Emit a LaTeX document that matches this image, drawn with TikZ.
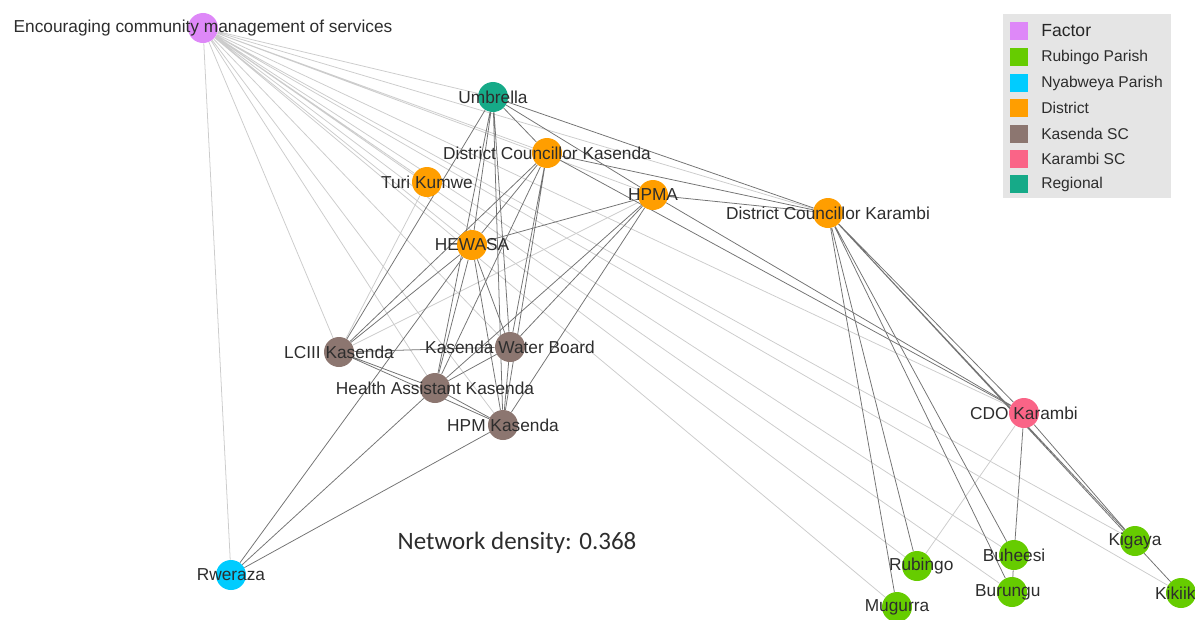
\documentclass[tikz,border=0pt]{standalone}
\usepackage{fontspec}
\setmainfont{Liberation Sans}
\newfontfamily\densityfont{Carlito}
\definecolor{factorc}{RGB}{222,136,248}
\definecolor{rubingoc}{RGB}{102,204,0}
\definecolor{nyabweyac}{RGB}{0,204,255}
\definecolor{districtc}{RGB}{255,158,0}
\definecolor{kasendac}{RGB}{140,118,112}
\definecolor{karambic}{RGB}{250,100,135}
\definecolor{regionalc}{RGB}{22,170,136}
\definecolor{textc}{RGB}{45,45,45}
\definecolor{legendbg}{RGB}{229,229,229}
\pgfdeclarelayer{background}
\pgfsetlayers{background,main}
\tikzset{
  actor/.style={circle,fill=#1,minimum size=0.75cm,inner sep=0pt},
  lbl/.style={font=\fontsize{12.3}{14}\selectfont,text=textc,inner sep=0pt},
  tie/.style={draw=black!55,line width=0.55pt},
  faint/.style={draw=black!20,line width=0.55pt},
  keybox/.style={fill=#1,minimum size=0.46cm,inner sep=0pt},
  keytext/.style={font=\fontsize{11.1}{13}\selectfont,text=textc,anchor=west,inner sep=0pt}
}

\begin{document}
\begin{tikzpicture}[x=0.025cm,y=-0.025cm]
  \useasboundingbox (0,0) rectangle (1195,619);

  \node[actor=factorc,label={[lbl]center:Encouraging community management of services}] (fac) at (203,28) {};
  \node[actor=regionalc,label={[lbl]center:Umbrella}] (umb) at (493,97) {};
  \node[actor=districtc,label={[lbl]center:District Councillor Kasenda}] (dckas) at (547,153) {};
  \node[actor=districtc,label={[lbl]center:Turi Kumwe}] (turi) at (427,182) {};
  \node[actor=districtc,label={[lbl]center:HPMA}] (hpma) at (653,195) {};
  \node[actor=districtc,label={[lbl]center:District Councillor Karambi}] (dckar) at (828,213) {};
  \node[actor=districtc,label={[lbl]center:HEWASA}] (hewasa) at (472,245) {};
  \node[actor=kasendac,label={[lbl]center:LCIII Kasenda}] (lciii) at (339,352) {};
  \node[actor=kasendac,label={[lbl]center:Kasenda Water Board}] (kwb) at (510,347) {};
  \node[actor=kasendac,label={[lbl]center:Health Assistant Kasenda}] (hak) at (435,388) {};
  \node[actor=kasendac,label={[lbl]center:HPM Kasenda}] (hpmk) at (503,425) {};
  \node[actor=karambic,label={[lbl]center:CDO Karambi}] (cdo) at (1024,413) {};
  \node[actor=nyabweyac,label={[lbl]center:Rweraza}] (rwe) at (231,575) {};
  \node[actor=rubingoc,label={[lbl,xshift=3pt]center:Rubingo}] (rub) at (917,566) {};
  \node[actor=rubingoc,label={[lbl]center:Mugurra}] (mug) at (897,607) {};
  \node[actor=rubingoc,label={[lbl]center:Buheesi}] (buh) at (1014,555) {};
  \node[actor=rubingoc,label={[lbl,xshift=-3pt]center:Burungu}] (bur) at (1012,592) {};
  \node[actor=rubingoc,label={[lbl]center:Kigaya}] (kig) at (1135,541) {};
  \node[actor=rubingoc,label={[lbl,xshift=-4pt]center:Kikiik}] (kik) at (1181,593) {};

  \node[font=\densityfont\fontsize{17.8}{20}\selectfont,text=textc] (dens) at (517,543) {Network density: 0.368};

  \node[fill=legendbg,minimum width=168*0.025cm,minimum height=184*0.025cm,inner sep=0pt] (key) at (1087,106) {};
  \node[keybox=factorc] (k1) at (1019,31) {};
  \node[keytext,font=\fontsize{12.5}{14}\selectfont,text=black!85] (t1) at (1041,31) {Factor};
  \node[keybox=rubingoc] (k2) at (1019,57) {};
  \node[keytext] (t2) at (1041,57) {Rubingo Parish};
  \node[keybox=nyabweyac] (k3) at (1019,83) {};
  \node[keytext] (t3) at (1041,83) {Nyabweya Parish};
  \node[keybox=districtc] (k4) at (1019,108) {};
  \node[keytext] (t4) at (1041,108) {District};
  \node[keybox=kasendac] (k5) at (1019,134) {};
  \node[keytext] (t5) at (1041,134) {Kasenda SC};
  \node[keybox=karambic] (k6) at (1019,159) {};
  \node[keytext] (t6) at (1041,159) {Karambi SC};
  \node[keybox=regionalc] (k7) at (1019,184) {};
  \node[keytext] (t7) at (1041,184) {Regional};

  \begin{pgfonlayer}{background}
  \draw[faint] (fac) -- (umb) (fac) -- (dckas) (fac) -- (turi) (fac) -- (hpma)
    (fac) -- (dckar) (fac) -- (hewasa) (fac) -- (lciii) (fac) -- (kwb)
    (fac) -- (hak) (fac) -- (hpmk) (fac) -- (cdo) (fac) -- (rwe)
    (fac) -- (rub) (fac) -- (mug) (fac) -- (buh) (fac) -- (bur)
    (fac) -- (kig) (fac) -- (kik);
  \draw[faint] (turi) -- (lciii) (lciii) -- (hpma) (cdo) -- (rub);
  \draw[tie] (umb) -- (hewasa) (umb) -- (lciii) (umb) -- (hak) (umb) -- (kwb)
    (umb) -- (hpmk) (umb) -- (dckas) (umb) -- (hpma) (umb) -- (dckar);
  \draw[tie] (dckas) -- (hewasa) (dckas) -- (lciii) (dckas) -- (hak) (dckas) -- (kwb)
    (dckas) -- (hpmk) (dckas) -- (dckar) (dckas) -- (cdo);
  \draw[tie] (hewasa) -- (lciii) (hewasa) -- (hak) (hewasa) -- (kwb)
    (hewasa) -- (hpmk) (hewasa) -- (hpma) (hewasa) -- (rwe);
  \draw[tie] (lciii) -- (hak) (lciii) -- (kwb) (lciii) -- (hpmk);
  \draw[tie] (kwb) -- (hak) (kwb) -- (hpmk) (kwb) -- (hpma);
  \draw[tie] (hak) -- (hpmk) (hak) -- (hpma) (hak) -- (rwe);
  \draw[tie] (hpmk) -- (hpma) (hpmk) -- (rwe);
  \draw[tie] (hpma) -- (dckar) (hpma) -- (cdo);
  \draw[tie] (dckar) -- (mug) (dckar) -- (rub) (dckar) -- (bur) (dckar) -- (buh)
    (dckar) -- (kig) (dckar) -- (kik) (dckar) -- (cdo);
  \draw[tie] (cdo) -- (buh) (cdo) -- (kig) (buh) -- (bur);
  \end{pgfonlayer}
\end{tikzpicture}
\end{document}
